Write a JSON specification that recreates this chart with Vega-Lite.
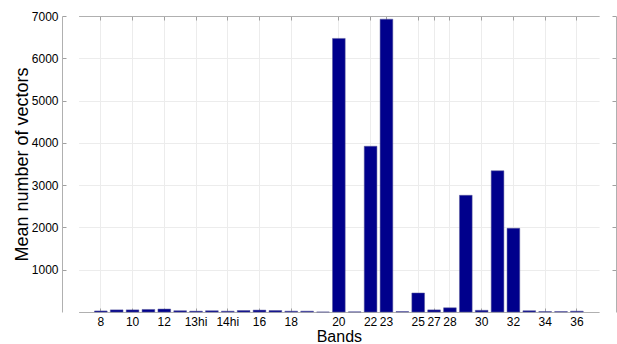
{
  "$schema": "https://vega.github.io/schema/vega-lite/v6.json",
  "width": 554,
  "height": 296,
  "autosize": {"type": "none"},
  "padding": {"left": 62, "top": 16, "right": 1, "bottom": 32},
  "background": "white",
  "config": {
    "font": "Liberation Sans",
    "view": {"stroke": null},
    "axis": {
      "labelFont": "Liberation Sans",
      "titleFont": "Liberation Sans",
      "labelColor": "#000000",
      "titleColor": "#000000",
      "titleFontWeight": "normal",
      "labelFontSize": 12,
      "domainColor": "#b0b0b0",
      "tickColor": "#a0a0a0",
      "gridColor": "#ececec",
      "gridWidth": 1
    }
  },
  "data": {
    "values": [
      {"band": "8", "vectors": 25},
      {"band": "9", "vectors": 50},
      {"band": "10", "vectors": 50},
      {"band": "11", "vectors": 60},
      {"band": "12", "vectors": 70},
      {"band": "13lo", "vectors": 30},
      {"band": "13hi", "vectors": 20},
      {"band": "14lo", "vectors": 30},
      {"band": "14hi", "vectors": 20},
      {"band": "15", "vectors": 35},
      {"band": "16", "vectors": 45},
      {"band": "17", "vectors": 35},
      {"band": "18", "vectors": 20},
      {"band": "19", "vectors": 20},
      {"band": "26", "vectors": 0},
      {"band": "20", "vectors": 6470},
      {"band": "21", "vectors": 3},
      {"band": "22", "vectors": 3920},
      {"band": "23", "vectors": 6925},
      {"band": "24", "vectors": 10},
      {"band": "25", "vectors": 450},
      {"band": "27", "vectors": 50},
      {"band": "28", "vectors": 100},
      {"band": "29", "vectors": 2760},
      {"band": "30", "vectors": 40},
      {"band": "31", "vectors": 3340},
      {"band": "32", "vectors": 1980},
      {"band": "33", "vectors": 30},
      {"band": "34", "vectors": 10},
      {"band": "35", "vectors": 10},
      {"band": "36", "vectors": 20}
    ]
  },
  "layer": [
    {
      "mark": {"type": "bar", "color": "#00008c", "stroke": "#5a5a9a", "strokeWidth": 0.5},
      "encoding": {
        "x": {
          "field": "band",
          "type": "ordinal",
          "sort": null,
          "scale": {"paddingInner": 0.2, "paddingOuter": 1, "range": [16.6, 537.1]},
          "axis": {
            "orient": "bottom",
            "values": ["8", "10", "12", "13hi", "14hi", "16", "18", "20", "22", "23", "25", "27", "28", "30", "32", "34", "36"],
            "labelAngle": 0,
            "bandPosition": 0.5,
            "tickSize": -4,
            "labelPadding": 8,
            "grid": true,
            "title": "Bands",
            "titleFontSize": 16,
            "titlePadding": 1
          }
        },
        "y": {
          "field": "vectors",
          "type": "quantitative",
          "scale": {"domain": [0, 7000], "nice": false},
          "axis": {
            "values": [1000, 2000, 3000, 4000, 5000, 6000, 7000],
            "format": "d",
            "tickSize": -4,
            "labelPadding": 8,
            "grid": true,
            "title": "Mean number of vectors",
            "titleFontSize": 18,
            "titlePadding": 0
          }
        }
      }
    },
    {
      "mark": {"type": "bar", "opacity": 0},
      "encoding": {
        "x": {
          "field": "band",
          "type": "ordinal",
          "sort": null,
          "scale": {"paddingInner": 0.2, "paddingOuter": 1, "range": [16.6, 537.1]},
          "axis": {
            "orient": "top",
            "values": ["8", "10", "12", "13hi", "14hi", "16", "18", "20", "22", "23", "25", "27", "28", "30", "32", "34", "36"],
            "bandPosition": 0.5,
            "tickSize": -4,
            "labels": false,
            "grid": false,
            "title": null
          }
        },
        "y": {
          "field": "vectors",
          "type": "quantitative",
          "scale": {"domain": [0, 7000], "nice": false},
          "axis": {
            "orient": "right",
            "values": [1000, 2000, 3000, 4000, 5000, 6000, 7000],
            "tickSize": -4,
            "labels": false,
            "grid": false,
            "title": null
          }
        }
      }
    }
  ],
  "resolve": {"axis": {"x": "independent", "y": "independent"}}
}
